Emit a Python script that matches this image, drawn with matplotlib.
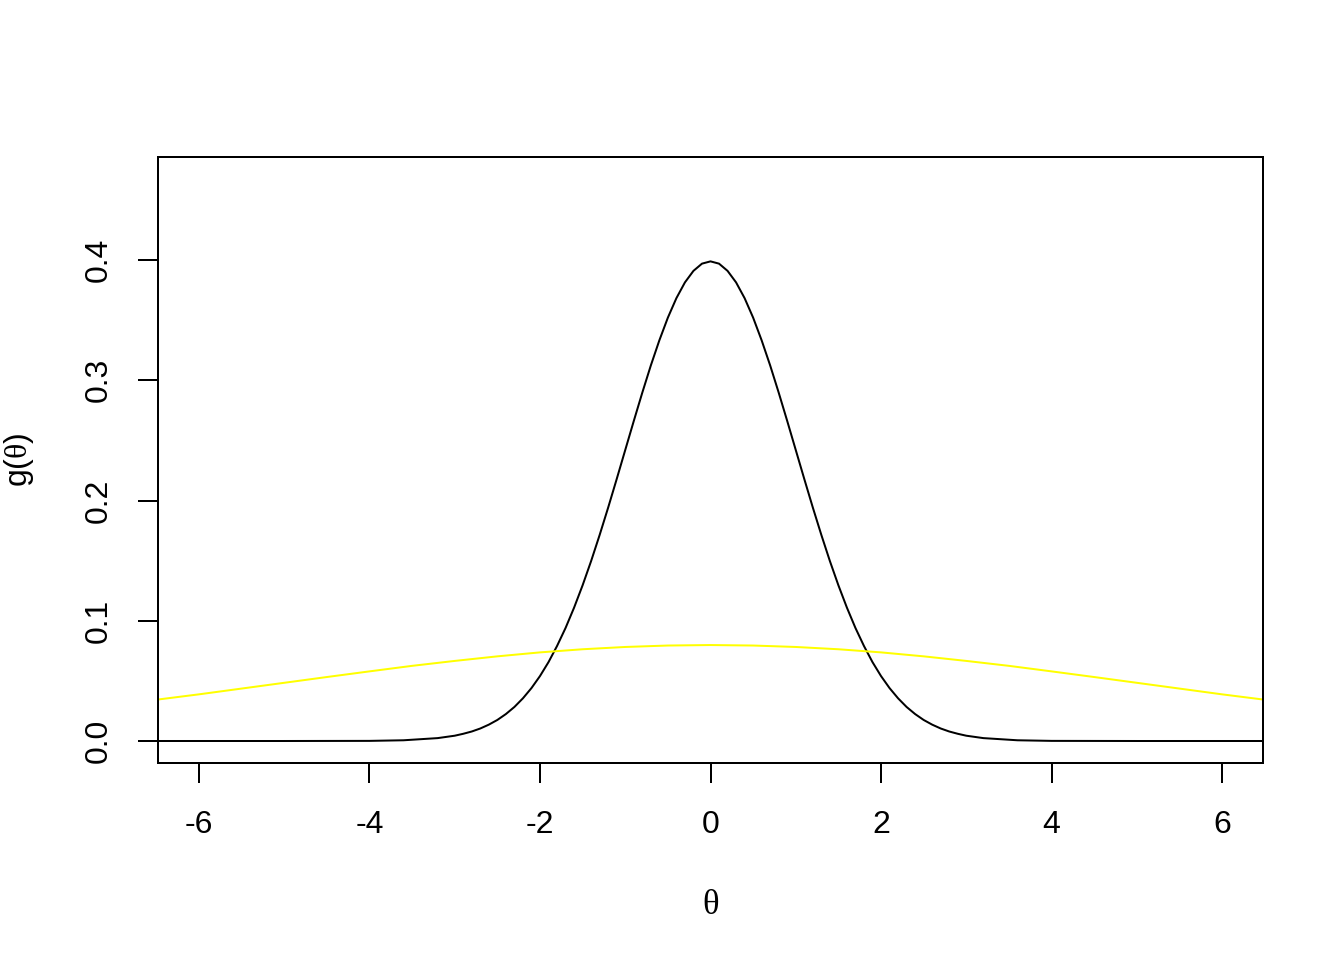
import matplotlib
matplotlib.use('Agg')
import matplotlib.pyplot as plt

plt.rcParams['font.family'] = ['Liberation Sans', 'DejaVu Sans']
plt.rcParams['mathtext.fontset'] = 'custom'
plt.rcParams['mathtext.rm'] = 'Liberation Serif'
plt.rcParams['mathtext.it'] = 'Liberation Serif'

# black curve
theta_k = [-6.48, -5.0, -4.0, -3.6, -3.2,
           -3.0, -2.9, -2.8, -2.7, -2.6, -2.5, -2.4, -2.3, -2.2, -2.1,
           -2.0, -1.9, -1.8, -1.7, -1.6, -1.5, -1.4, -1.3, -1.2, -1.1,
           -1.0, -0.9, -0.8, -0.7, -0.6, -0.5, -0.4, -0.3, -0.2, -0.1,
           0.0, 0.1, 0.2, 0.3, 0.4, 0.5, 0.6, 0.7, 0.8, 0.9,
           1.0, 1.1, 1.2, 1.3, 1.4, 1.5, 1.6, 1.7, 1.8, 1.9,
           2.0, 2.1, 2.2, 2.3, 2.4, 2.5, 2.6, 2.7, 2.8, 2.9,
           3.0, 3.2, 3.6, 4.0, 5.0, 6.48]
g_k = [0.0, 0.0, 0.0001, 0.0006, 0.0024,
       0.0044, 0.0060, 0.0079, 0.0104, 0.0136, 0.0175, 0.0224, 0.0283, 0.0355, 0.0440,
       0.0540, 0.0656, 0.0790, 0.0940, 0.1109, 0.1295, 0.1497, 0.1714, 0.1942, 0.2179,
       0.2420, 0.2661, 0.2897, 0.3123, 0.3332, 0.3521, 0.3683, 0.3814, 0.3910, 0.3970,
       0.3989, 0.3970, 0.3910, 0.3814, 0.3683, 0.3521, 0.3332, 0.3123, 0.2897, 0.2661,
       0.2420, 0.2179, 0.1942, 0.1714, 0.1497, 0.1295, 0.1109, 0.0940, 0.0790, 0.0656,
       0.0540, 0.0440, 0.0355, 0.0283, 0.0224, 0.0175, 0.0136, 0.0104, 0.0079, 0.0060,
       0.0044, 0.0024, 0.0006, 0.0001, 0.0, 0.0]

# yellow curve
theta_y = [-6.48, -6.0, -5.5, -5.0, -4.5, -4.0, -3.5, -3.0, -2.5, -2.0, -1.5, -1.0, -0.5,
           0.0, 0.5, 1.0, 1.5, 2.0, 2.5, 3.0, 3.5, 4.0, 4.5, 5.0, 5.5, 6.0, 6.48]
g_y = [0.0345, 0.0388, 0.0436, 0.0484, 0.0532, 0.0579, 0.0625, 0.0666, 0.0704, 0.0737, 0.0763, 0.0782, 0.0794,
       0.0798, 0.0794, 0.0782, 0.0763, 0.0737, 0.0704, 0.0666, 0.0625, 0.0579, 0.0532, 0.0484, 0.0436, 0.0388, 0.0345]

xticks = [-6, -4, -2, 0, 2, 4, 6]
yticks = [0.0, 0.1, 0.2, 0.3, 0.4]

fig = plt.figure(figsize=(7, 5), dpi=192)
ax = fig.add_axes([158/1344, 1 - 763/960, (1263 - 158)/1344, (763 - 157)/960])

ax.plot(theta_k, g_k, color='black', lw=0.75)
ax.plot(theta_y, g_y, color='#ffff00', lw=0.75)

ax.set_xlim(-6.48, 6.48)
ax.set_ylim(-0.0183, 0.4857)
ax.set_xticks(xticks)
ax.set_xticklabels([str(t) for t in xticks])
ax.set_yticks(yticks)
ax.set_yticklabels(['%.1f' % t for t in yticks], rotation=90, va='center')
ax.tick_params(direction='out', length=7.5, width=0.75, labelsize=12)
ax.tick_params(axis='x', pad=10)
ax.tick_params(axis='y', pad=9)
for s in ax.spines.values():
    s.set_linewidth(0.75)

ax.set_xlabel(r'$\theta$', fontsize=13, labelpad=18)
ax.set_ylabel(r'g($\theta$)', fontsize=12, labelpad=18)

fig.savefig('out.png', dpi=192)
